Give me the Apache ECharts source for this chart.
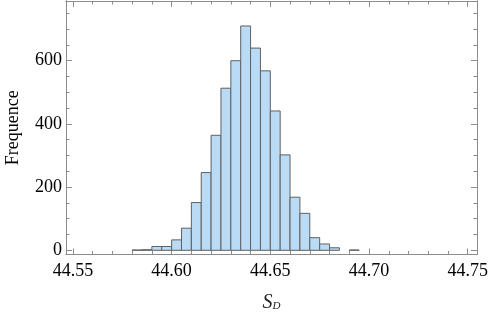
<!DOCTYPE html>
<html>
<head>
<meta charset="utf-8">
<script src="https://cdn.jsdelivr.net/npm/echarts@6/dist/echarts.min.js"></script>
<style>html,body{margin:0;padding:0;background:#fff}#c{width:491px;height:312px}</style>
</head>
<body>
<div id="c"></div>
<script>
const binStarts = [44.580,44.585,44.590,44.595,44.600,44.605,44.610,44.615,44.620,44.625,44.630,44.635,44.640,44.645,44.650,44.655,44.660,44.665,44.670,44.675,44.680,44.685,44.690];
const counts    = [1,2,12,12,33,70,151,246,364,513,600,710,640,568,441,302,168,117,40,20,8,0,1];
const binWidth = 0.005;
const xMajorTicks = [44.55,44.60,44.65,44.70,44.75];
const xMinorTicks = [44.56,44.57,44.58,44.59,44.61,44.62,44.63,44.64,44.66,44.67,44.68,44.69,44.71,44.72,44.73,44.74];
const yMajorTicks = [0,200,400,600];
const yMinorTicks = [50,100,150,250,300,350,450,500,550,650,700,750];

const data = binStarts.map((s,i)=>[s, s+binWidth, counts[i]]);
const FONT = 'Liberation Serif';
const AX = '#8c8c8c';
const XMIN = 44.5465, XMAX = 44.7547, YMIN = -13.3, YMAX = 789;

function xAx(pos, ticks, len, labels, withName){
  return {
    type:'value', position:pos, min:XMIN, max:XMAX,
    axisLine:{show:true, onZero:false, lineStyle:{color:AX,width:1}},
    axisTick:{show:true, inside:true, length:len, customValues:ticks, lineStyle:{color:AX,width:1}},
    axisLabel:{show:labels, customValues:ticks, margin:8, color:'#000', fontFamily:FONT, fontSize:18,
      formatter:v=>Number(v).toFixed(2)},
    splitLine:{show:false},
    name: withName ? '{s|S}{d|D}' : '',
    nameLocation:'middle', nameGap:38,
    nameTextStyle:{rich:{s:{fontFamily:FONT,fontStyle:'italic',fontSize:20,color:'#222'},
                         d:{fontFamily:FONT,fontStyle:'italic',fontSize:11,color:'#222',padding:[8,0,0,0]}}}
  };
}
function yAx(pos, ticks, len, labels, withName){
  return {
    type:'value', position:pos, min:YMIN, max:YMAX,
    axisLine:{show:true, onZero:false, lineStyle:{color:AX,width:1}},
    axisTick:{show:true, inside:true, length:len, customValues:ticks, lineStyle:{color:AX,width:1}},
    axisLabel:{show:labels, customValues:ticks, margin:4, color:'#000', fontFamily:FONT, fontSize:18},
    splitLine:{show:false},
    name: withName ? 'Frequence' : '',
    nameLocation:'middle', nameGap:44, nameRotate:90,
    nameTextStyle:{fontFamily:FONT, fontSize:18, color:'#000'}
  };
}

const chart = echarts.init(document.getElementById('c'), null, {renderer:'canvas'});
chart.setOption({
  animation:false,
  grid:{left:66, right:14, top:1, bottom:57.5, containLabel:false, outerBoundsMode:'none'},
  xAxis:[
    xAx('bottom', xMajorTicks, 6, true, true),
    xAx('bottom', xMinorTicks, 3.5, false, false),
    xAx('top', xMajorTicks, 6, false, false),
    xAx('top', xMinorTicks, 3.5, false, false)
  ],
  yAxis:[
    yAx('left', yMajorTicks, 6, true, true),
    yAx('left', yMinorTicks, 3.5, false, false),
    yAx('right', yMajorTicks, 6, false, false),
    yAx('right', yMinorTicks, 3.5, false, false)
  ],
  series:[{
    type:'custom', xAxisIndex:0, yAxisIndex:0,
    data:data,
    encode:{x:[0,1], y:2},
    renderItem:function(params, api){
      const x0 = api.value(0), x1 = api.value(1), c = api.value(2);
      if (!c) return null;
      const p0 = api.coord([x0, c]);
      const p1 = api.coord([x1, 0]);
      return {type:'rect',
        shape:{x:p0[0], y:p0[1], width:p1[0]-p0[0], height:p1[1]-p0[1]},
        style:{fill:'#b9dbf6', stroke:'#606060', lineWidth:1, opacity:1}};
    }
  }]
});
</script>
</body>
</html>
